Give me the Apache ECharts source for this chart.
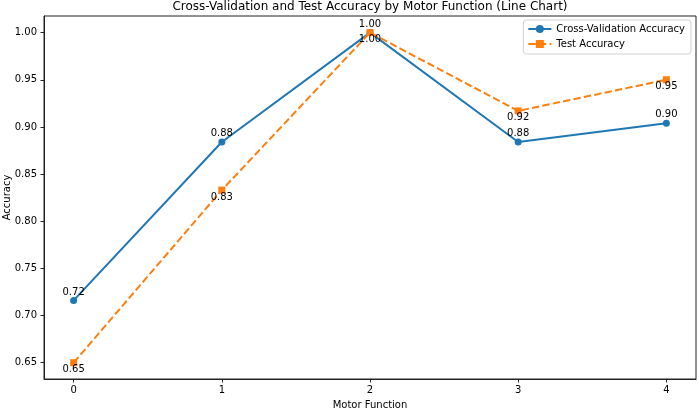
<!DOCTYPE html>
<html>
<head>
<meta charset="utf-8">
<script src="https://cdn.jsdelivr.net/npm/echarts@6/dist/echarts.min.js"></script>
<style>html,body{margin:0;padding:0;background:#fff}#c{width:699px;height:409px}</style>
</head>
<body>
<div id="c"></div>
<script>
const titleText = 'Cross-Validation and Test Accuracy by Motor Function (Line Chart)';
const xName = 'Motor Function';
const yName = 'Accuracy';
const motorFunctions = [0, 1, 2, 3, 4];
const cvAccuracy = [0.716, 0.884, 1.00, 0.884, 0.904];
const testAccuracy = [0.65, 0.833, 1.00, 0.917, 0.95];
const yTicks = [0.65, 0.70, 0.75, 0.80, 0.85, 0.90, 0.95, 1.00];
const xTicks = [0, 1, 2, 3, 4];
const seriesNames = ['Cross-Validation Accuracy', 'Test Accuracy'];

const font = 'DejaVu Sans';
const chart = echarts.init(document.getElementById('c'), null, {renderer: 'canvas'});
const pairs = arr => motorFunctions.map((x, i) => [x, arr[i]]);

chart.setOption({
  animation: false,
  textStyle: {fontFamily: font},
  title: {
    text: titleText, left: 370, textAlign: 'center', top: 1, padding: 0,
    textStyle: {fontFamily: font, fontSize: 12, fontWeight: 'normal', color: '#000'}
  },
  legend: {
    orient: 'vertical', right: 8, top: 20, padding: [4, 6, 5, 4],
    borderColor: '#d0d0d0', borderWidth: 1, borderRadius: 3,
    backgroundColor: 'rgba(255,255,255,0.8)',
    itemWidth: 23, itemHeight: 10, itemGap: 5,
    textStyle: {fontFamily: font, fontSize: 10, color: '#000', padding: [0, 0, 0, 0]},
    data: seriesNames
  },
  grid: {left: 44, right: 3, top: 16, bottom: 30, containLabel: false, outerBoundsMode: 'none',
         show: true, borderColor: '#222', borderWidth: 1, backgroundColor: 'transparent'},
  xAxis: {
    type: 'value', min: -0.2, max: 4.2,
    name: xName, nameLocation: 'middle', nameGap: 21, nameMoveOverlap: false,
    nameTextStyle: {fontFamily: font, fontSize: 10, color: '#000'},
    axisLine: {show: true, onZero: false, lineStyle: {color: '#222', width: 1}},
    axisTick: {show: true, length: 3.5, lineStyle: {color: '#222'}, customValues: xTicks},
    axisLabel: {fontFamily: font, fontSize: 10, color: '#000', margin: 6, customValues: xTicks,
                formatter: v => String(v)},
    splitLine: {show: false}
  },
  yAxis: {
    type: 'value', min: 0.6327, max: 1.0176,
    name: yName, nameLocation: 'middle', nameGap: 32, nameMoveOverlap: false,
    nameTextStyle: {fontFamily: font, fontSize: 10, color: '#000'},
    axisLine: {show: true, onZero: false, lineStyle: {color: '#222', width: 1}},
    axisTick: {show: true, length: 3.5, lineStyle: {color: '#222'}, customValues: yTicks},
    axisLabel: {fontFamily: font, fontSize: 10, color: '#000', margin: 7, customValues: yTicks,
                formatter: v => v.toFixed(2)},
    splitLine: {show: false}
  },
  series: [
    {
      name: seriesNames[0], type: 'line', data: pairs(cvAccuracy),
      symbol: 'circle', symbolSize: 7,
      itemStyle: {color: '#1f77b4'},
      lineStyle: {color: '#1f77b4', width: 2},
      label: {show: true, position: 'inside', offset: [0, -8.5], formatter: p => p.value[1].toFixed(2),
              fontFamily: font, fontSize: 10, color: '#000'},
      z: 2
    },
    {
      name: seriesNames[1], type: 'line', data: pairs(testAccuracy),
      symbol: 'rect', symbolSize: 7,
      itemStyle: {color: '#ff7f0e'},
      lineStyle: {color: '#ff7f0e', width: 2, type: [7.4, 3.2]},
      label: {show: true, position: 'inside', offset: [0, 7], formatter: p => p.value[1].toFixed(2),
              fontFamily: font, fontSize: 10, color: '#000'},
      z: 3
    }
  ]
});
</script>
</body>
</html>
